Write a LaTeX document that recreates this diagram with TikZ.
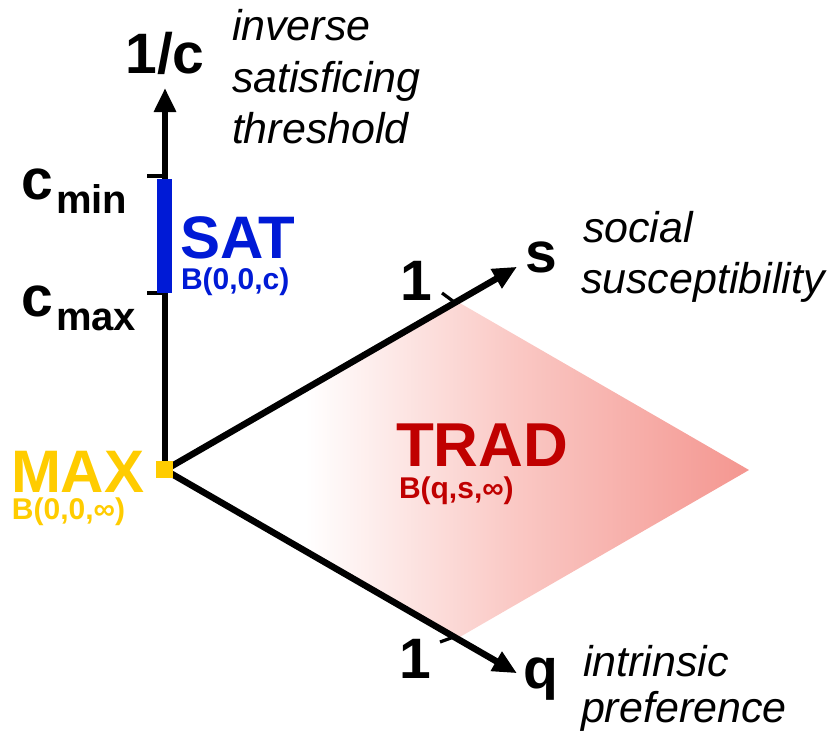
\documentclass[tikz,border=0pt]{standalone}
\usepackage{fontspec}
\setmainfont{Liberation Sans}
\usetikzlibrary{arrows.meta}
\definecolor{satblue}{RGB}{0,26,214}
\definecolor{maxyellow}{RGB}{255,204,0}
\definecolor{tradred}{RGB}{192,0,0}
\definecolor{tradfill}{RGB}{244,150,144}
\definecolor{tradmid}{RGB}{250,200,196}
\pgfdeclarehorizontalshading{tradshade}{100bp}{color(0bp)=(white); color(37bp)=(white); color(55bp)=(tradmid); color(75bp)=(tradfill); color(100bp)=(tradfill)}
\tikzset{
  axisline/.style={line width=6.5pt, -{Triangle[width=21pt,length=24pt]}},
  tickline/.style={line width=3.2pt},
  lbl/.style={inner sep=0pt, outer sep=0pt},
  bigtxt/.style={lbl, font=\fontsize{57}{57}\selectfont\bfseries},
  subtxt/.style={lbl, font=\fontsize{40}{40}\selectfont\bfseries},
  regtxt/.style={lbl, text depth=0pt, font=\fontsize{60}{60}\selectfont\bfseries},
  smalltxt/.style={lbl, text height=20pt, font=\fontsize{30}{30}\selectfont\bfseries},
  itxt/.style={lbl, font=\fontsize{43}{43}\selectfont\itshape},
}
\begin{document}
\begin{tikzpicture}[x=1pt, y=-1pt]
\useasboundingbox (0,0) rectangle (834,731);
% key points
\coordinate (O) at (165,470);
\coordinate (C) at (165,88);
\coordinate (S) at (517,266.8);
\coordinate (Q) at (517,673.2);
\coordinate (D1) at (457,301.4);
\coordinate (D2) at (749,470);
\coordinate (D3) at (457,638.6);
% TRAD region
\shade[shading=tradshade] (O) -- (D1) -- (D2) -- (D3) -- cycle;
% axes
\draw[axisline] (O) -- (C);
\draw[axisline] (O) -- (S);
\draw[axisline] (O) -- (Q);
% ticks
\coordinate (tminA) at (147,176);
\coordinate (tminB) at (165,176);
\coordinate (tmaxA) at (147,293);
\coordinate (tmaxB) at (165,293);
\draw[tickline] (tminA) -- (tminB);
\draw[tickline] (tmaxA) -- (tmaxB);
\coordinate (tsA) at (442,293);
\coordinate (tsB) at (455,302.6);
\coordinate (tqA) at (440,642);
\coordinate (tqB) at (454,636.9);
\draw[tickline] (tsA) -- (tsB);
\draw[tickline] (tqA) -- (tqB);
% SAT bar
\fill[satblue] (157,179) rectangle (172,293);
% MAX square
\fill[maxyellow] (156,461) rectangle (173,478);
% axis labels
\node[bigtxt, anchor=base] (lc) at (165,73) {1/c};
\node[bigtxt, anchor=base west] (cmin) at (21,199) {c};
\node[subtxt, anchor=base west] (cminsub) at (56,213) {min};
\node[bigtxt, anchor=base west] (cmax) at (21,316) {c};
\node[subtxt, anchor=base west] (cmaxsub) at (56,330) {max};
\node[bigtxt, anchor=base west] (ls) at (525,272) {s};
\node[bigtxt, anchor=base west] (lq) at (523,688) {q};
\node[bigtxt, anchor=base] (ones) at (416,300) {1};
\node[bigtxt, anchor=base] (oneq) at (415,678) {1};
% italic descriptions
\node[itxt, anchor=base west] (inv1) at (232,40) {inverse};
\node[itxt, anchor=base west] (inv2) at (232,92) {satisficing};
\node[itxt, anchor=base west] (inv3) at (232,143) {threshold};
\node[itxt, anchor=base west] (soc1) at (583,242) {social};
\node[itxt, anchor=base west] (soc2) at (581,293) {susceptibility};
\node[itxt, anchor=base west] (int1) at (583,676) {intrinsic};
\node[itxt, anchor=base west] (int2) at (581,722) {preference};
% regime labels
\node[regtxt, text=satblue, anchor=base west] (sat) at (180,258) {SAT};
\node[smalltxt, text=satblue, anchor=base west] (satb) at (181,289) {B(0,0,c)};
\node[regtxt, text=maxyellow, anchor=base west] (max) at (11,492) {MAX};
\node[smalltxt, text=maxyellow, anchor=base west] (maxb) at (12,519) {B(0,0,∞)};
\node[regtxt, text=tradred, anchor=base west, font=\fontsize{62}{62}\selectfont\bfseries] (trad) at (396,466) {TRAD};
\node[smalltxt, text=tradred, anchor=base west] (tradb) at (399,498) {B(q,s,∞)};
\end{tikzpicture}
\end{document}
